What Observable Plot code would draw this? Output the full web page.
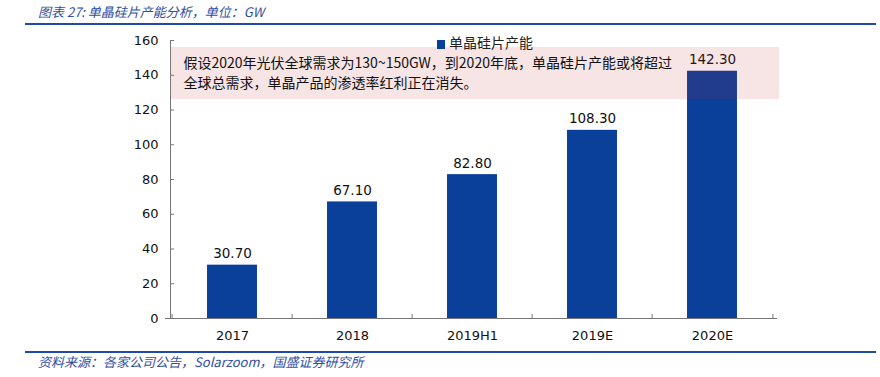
<!DOCTYPE html>
<html>
<head>
<meta charset="utf-8">
<script src="https://cdn.jsdelivr.net/npm/d3@7"></script>
<script src="https://cdn.jsdelivr.net/npm/@observablehq/plot@0.6"></script>
<style>
  html, body { margin: 0; padding: 0; background: #fff; }
  #wrap { position: relative; width: 880px; height: 377px; overflow: hidden; }
  #chart { position: absolute; left: 0; top: 0; }
  .title, .caption {
    position: absolute; left: 38px; font-family: "Noto Sans CJK SC", sans-serif;
    font-style: italic; font-size: 13px; color: #2f4fa3; white-space: nowrap; line-height: 1;
  }
  .title { top: 5px; }
  .caption { top: 355px; }
  .hline { position: absolute; left: 25px; width: 851px; background: #1f4aa8; }
  .legend {
    position: absolute; left: 437px; top: 34px; font-family: "Noto Sans CJK SC", sans-serif;
    font-size: 14px; color: #222; white-space: nowrap; line-height: 16px;
  }
  .legend .sw { display: inline-block; width: 8px; height: 9px; background: #0a3f9a; margin-right: 4px; vertical-align: -1px; }
</style>
</head>
<body>
<div id="wrap">
  <div id="chart"></div>
  <div class="title">图表 27:  单晶硅片产能分析，单位：GW</div>
  <div class="hline" style="top:23px;height:2px;"></div>
  <div class="hline" style="top:351px;height:1.5px;"></div>
  <div class="caption">资料来源：各家公司公告，Solarzoom，国盛证券研究所</div>
  <div class="legend"><span class="sw"></span>单晶硅片产能</div>
</div>
<script>
const categories = ["2017", "2018", "2019H1", "2019E", "2020E"];
const values = [30.7, 67.1, 82.8, 108.3, 142.3];
const yTicks = [0, 20, 40, 60, 80, 100, 120, 140, 160];
const seriesName = "单晶硅片产能";
const noteRange = [126, 156];
const noteLines = ["假设2020年光伏全球需求为130~150GW，到2020年底，单晶硅片产能或将超过", "全球总需求，单晶产品的渗透率红利正在消失。"];

const data = categories.map((c, i) => ({category: c, value: values[i]}));
const W = 880, H = 377, mL = 170, mR = 106, mT = 40, mB = 59;
const step = (W - mL - mR) / categories.length;
const barInset = step * 0.29;
const font = "DejaVu Sans, Verdana, sans-serif";

const plot = Plot.plot({
  width: W, height: H,
  marginLeft: mL, marginRight: mR, marginTop: mT, marginBottom: mB,
  style: {fontFamily: font, fontSize: "13px", color: "#111", background: "transparent"},
  x: {domain: categories, padding: 0, label: null},
  y: {domain: [0, 160], ticks: yTicks, label: null},
  marks: [
    Plot.barY(data, {x: "category", y: "value", fill: "#0a3f9a", insetLeft: barInset, insetRight: barInset}),
    Plot.text(data, {x: "category", y: "value", text: d => d.value.toFixed(2), lineAnchor: "bottom", dy: -7, fontSize: 13.5, fill: "#111"}),
    Plot.rect([{y1: noteRange[0], y2: noteRange[1]}], {y1: "y1", y2: "y2", fill: "#c03030", fillOpacity: 0.13, insetRight: -5}),
    Plot.text([noteLines.join("\n")], {frameAnchor: "top-left", text: d => d, dx: 13, dy: 14, lineHeight: 1.38, fontSize: 14, fontFamily: "Noto Sans CJK SC, sans-serif", fill: "#111"}),
    Plot.frame({anchor: "left", stroke: "#777"}),
    Plot.ruleY([0], {stroke: "#777", insetLeft: -5, insetRight: -3}),
    Plot.ruleY(yTicks, {stroke: "#777", insetRight: W - mL - mR - 4}),
    Plot.ruleX(categories, {x: d => d, dx: -step / 2, stroke: "#777", insetTop: H - mT - mB - 4}),
    Plot.ruleX(categories.slice(-1), {x: d => d, dx: step / 2, stroke: "#777", insetTop: H - mT - mB - 4}),
    Plot.axisY({ticks: yTicks, tickSize: 0, tickPadding: 12, fontSize: 13, label: null}),
    Plot.axisX({tickSize: 0, tickPadding: 12, fontSize: 13, label: null})
  ]
});
document.getElementById("chart").appendChild(plot);
</script>
</body>
</html>
